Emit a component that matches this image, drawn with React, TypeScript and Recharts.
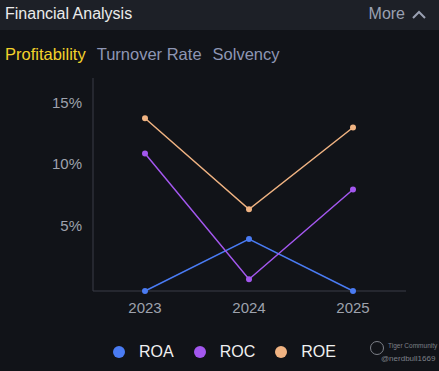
import React from "react";
import { LineChart, Line, XAxis, YAxis } from "recharts";

// Values in percent.
const years = ["2023", "2024", "2025"];
const roa = [0, 4.2, 0];
const roc = [11.1, 0.95, 8.2];
const roe = [13.95, 6.6, 13.2];
const yTicks = [0, 5, 10, 15];
const tabs = ["Profitability", "Turnover Rate", "Solvency"];

const SERIES = [
  { key: "ROA", values: roa, color: "#4a7bf2" },
  { key: "ROC", values: roc, color: "#a357ee" },
  { key: "ROE", values: roe, color: "#f0b382" },
];

const data = years.map((year, i) => ({
  year,
  ROA: roa[i],
  ROC: roc[i],
  ROE: roe[i],
}));

const FONT = "'Liberation Sans', Arial, sans-serif";
const AXIS_TEXT = "#9ea2ad";

function LegendRow() {
  return (
    <div
      style={{
        display: "flex",
        alignItems: "center",
        fontFamily: FONT,
        fontSize: 16,
        color: "#f0f0f0",
      }}
    >
      {SERIES.map((s) => (
        <div key={s.key} style={{ display: "flex", alignItems: "center", marginRight: 20 }}>
          <span
            style={{
              width: 12,
              height: 12,
              borderRadius: 6,
              background: s.color,
              marginRight: 14,
              display: "inline-block",
            }}
          />
          <span>{s.key}</span>
        </div>
      ))}
    </div>
  );
}

export default function App() {
  return (
    <div
      style={{
        position: "absolute",
        left: 0,
        top: 0,
        width: 439,
        height: 371,
        background: "#111318",
        overflow: "hidden",
        fontFamily: FONT,
      }}
    >
      {/* header bar */}
      <div
        style={{
          position: "absolute",
          left: 0,
          top: 0,
          width: 439,
          height: 30,
          background: "#1d2027",
        }}
      >
        <div style={{ position: "absolute", left: 5, top: 5, fontSize: 16, color: "#ebebeb" }}>
          Financial Analysis
        </div>
        <div style={{ position: "absolute", right: 12, top: 5, fontSize: 16, color: "#9aa0b2" }}>
          More
          <svg width={16} height={10} style={{ marginLeft: 6 }}>
            <polyline points="2,9 8,3 14,9" fill="none" stroke="#9aa0b2" strokeWidth={2} />
          </svg>
        </div>
      </div>

      {/* tabs */}
      <div style={{ position: "absolute", left: 5, top: 45, fontSize: 16.5, display: "flex" }}>
        {tabs.map((t, i) => (
          <span key={t} style={{ color: i === 0 ? "#f3d22b" : "#8e96b4", marginRight: 11 }}>
            {t}
          </span>
        ))}
      </div>

      <div style={{ position: "absolute", left: 0, top: 0 }}>
        <LineChart
          width={439}
          height={371}
          data={data}
          margin={{ top: 78, right: 33, bottom: 50, left: 33 }}
        >
          <XAxis
            dataKey="year"
            height={30}
            padding={{ left: 52, right: 53 }}
            axisLine={{ stroke: "#3a3d46" }}
            tickLine={false}
            tickMargin={5}
            tick={{ fill: AXIS_TEXT, fontSize: 15, fontFamily: FONT }}
          />
          <YAxis
            width={60}
            domain={[0, 17.2]}
            ticks={yTicks}
            tickFormatter={(v: number) => (v === 0 ? "" : `${v}%`)}
            axisLine={{ stroke: "#3a3d46" }}
            tickLine={false}
            tickMargin={5}
            tick={{ fill: AXIS_TEXT, fontSize: 15, fontFamily: FONT, dy: -3 }}
          />
          {SERIES.map((s) => (
            <Line
              key={s.key}
              type="linear"
              dataKey={s.key}
              stroke={s.color}
              strokeWidth={1.5}
              dot={{ r: 3, fill: s.color, stroke: s.color, strokeWidth: 0 }}
              activeDot={false}
              isAnimationActive={false}
            />
          ))}
        </LineChart>
      </div>

      {/* legend */}
      <div style={{ position: "absolute", left: 113, top: 343 }}>
        <LegendRow />
      </div>

      {/* watermark */}
      <div style={{ position: "absolute", left: 367, top: 339, width: 70, color: "#7d8088" }}>
        <svg width={16} height={16} style={{ position: "absolute", left: 2, top: 1 }}>
          <circle cx={8} cy={8} r={6.5} fill="none" stroke="#7d8088" strokeWidth={1} />
        </svg>
        <div style={{ position: "absolute", left: 21, top: 3, fontSize: 6.5, whiteSpace: "nowrap" }}>
          Tiger Community
        </div>
        <div style={{ position: "absolute", left: 14, top: 15, fontSize: 8, whiteSpace: "nowrap" }}>
          @nerdbull1669
        </div>
      </div>
    </div>
  );
}
